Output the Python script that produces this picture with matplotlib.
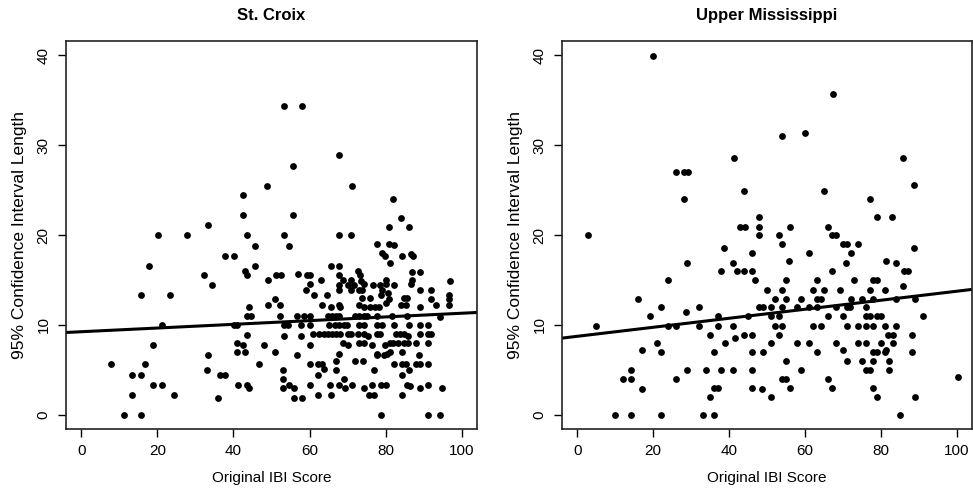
import numpy as np
import matplotlib
matplotlib.use("Agg")
from matplotlib import pyplot as plt

plt.rcParams['font.family'] = ['Liberation Sans', 'DejaVu Sans']

# St. Croix: original IBI score vs 95% CI length
croix_x = [20.1, 27.8, 33.3, 42.4, 42.4, 43.5, 48.9,
           53.4, 57.9, 67.8, 55.6, 71.1, 81.9, 84.0, 81.0, 86.0, 55.6, 53.4, 67.8, 70.8,
           45.6, 37.9, 40.1, 17.9, 45.6, 43.0, 43.5, 32.2, 34.4, 49.0, 15.7, 23.4, 49.0, 44.0,
           43.5, 44.5, 21.2, 40.1, 41.0, 43.5, 18.9, 41.0, 42.4, 47.9, 41.0, 43.0, 33.3, 7.9,
           16.8, 46.8, 13.4, 15.7, 33.1, 36.5, 37.9, 18.9, 21.2, 41.3, 43.5, 44.0, 13.4, 24.4,
           36.0, 11.3, 15.7,
           54.5, 77.8, 81.0, 82.3, 79.0, 79.9, 81.1, 84.4, 86.6, 87.3, 65.6, 67.8, 86.8, 89.1,
           51.3, 52.4, 56.9, 59.2, 60.2, 67.8, 72.8, 73.3, 63.1, 68.9, 70.9, 73.4, 80.0, 87.0,
           96.9, 60.0, 67.8, 70.0, 71.6, 74.2, 76.7, 78.6, 80.0, 82.1, 86.7, 59.0, 67.8, 70.9,
           72.9, 73.8, 79.1, 88.9, 91.9, 61.2, 64.5, 78.7, 80.7, 96.6, 50.9, 73.9, 76.0, 81.0,
           84.7, 85.7, 91.9, 96.6, 52.3, 63.4, 65.6, 67.8, 68.0, 73.1, 74.3, 75.8, 77.2, 78.3,
           80.0, 84.1, 85.3, 88.9, 93.1, 96.6, 52.2, 56.6, 58.5, 60.1, 64.9, 65.9, 67.0, 67.8,
           71.9, 73.1, 74.3, 75.1, 77.7, 81.6, 85.6, 94.2, 53.3, 54.4, 57.8, 60.0, 65.0, 66.7,
           67.8, 69.0, 69.9, 73.1, 74.3, 77.7, 79.1, 82.1, 86.0, 88.9, 91.0, 53.3, 57.7, 60.9,
           62.5, 63.8, 64.8, 65.9, 67.0, 68.0, 70.0, 70.9, 72.6, 74.2, 75.3, 77.7, 78.6, 82.7,
           83.8, 84.8, 85.9, 89.0, 91.0, 92.0, 60.0, 68.9, 70.1, 73.1, 74.3, 76.5, 79.8, 81.1,
           82.0, 83.2, 84.9, 85.9, 87.9, 91.0, 51.0, 56.8, 67.8, 77.6, 77.7, 79.6, 80.4, 81.2,
           84.2, 88.8, 67.0, 72.0, 74.0, 53.0, 60.1, 62.3, 63.2, 63.7, 67.0, 77.0, 82.1, 84.3,
           85.3, 86.1, 87.9, 89.0, 91.0, 62.3, 69.1, 84.3, 53.0, 53.0, 54.5, 55.9, 60.1, 65.5,
           67.8, 69.2, 71.1, 74.2, 76.4, 78.7, 80.0, 85.5, 86.5, 89.0, 91.0, 94.8, 55.9, 58.0,
           62.3, 65.6, 75.7, 76.9, 84.3, 78.7, 91.0, 94.3]
croix_y = [20.0, 20.0, 21.1, 22.2, 24.4, 20.0, 25.5,
           34.4, 34.4, 28.9, 27.7, 25.5, 24.0, 21.9, 20.9, 20.9, 22.2, 20.0, 20.0, 20.0,
           18.8, 17.7, 17.7, 16.6, 16.6, 16.0, 15.5, 15.5, 14.4, 15.0, 13.3, 13.3, 12.2, 12.0,
           11.0, 11.0, 10.0, 10.0, 10.0, 8.9, 7.7, 8.0, 7.7, 7.7, 7.0, 7.0, 6.6, 5.6,
           5.6, 5.6, 4.4, 4.4, 5.0, 4.4, 4.4, 3.3, 3.3, 3.3, 3.3, 3.0, 2.2, 2.2,
           1.9, 0.0, 0.0,
           18.8, 19.0, 19.0, 18.9, 18.0, 17.7, 16.9, 17.7, 17.9, 17.7, 16.6, 16.6, 15.9, 15.9,
           15.5, 15.5, 15.7, 15.5, 15.5, 15.5, 16.0, 15.5, 15.0, 15.0, 15.0, 14.9, 15.0, 15.0,
           14.9, 14.5, 14.4, 14.4, 14.4, 14.5, 14.4, 14.4, 14.6, 14.4, 14.5, 13.9, 13.9, 13.9,
           13.9, 13.9, 13.9, 13.9, 13.9, 13.3, 13.3, 13.3, 13.5, 13.3, 12.9, 13.0, 13.0, 12.9,
           13.0, 13.0, 12.9, 12.9, 12.2, 12.2, 12.0, 12.2, 12.0, 12.2, 12.0, 12.0, 12.0, 12.0,
           12.4, 12.2, 12.2, 12.0, 12.2, 12.2, 11.0, 11.0, 11.0, 11.0, 11.0, 11.0, 11.0, 11.0,
           11.0, 11.0, 11.0, 11.0, 11.0, 11.0, 11.0, 10.9, 10.0, 10.0, 10.0, 10.0, 10.0, 10.0,
           10.0, 10.0, 10.0, 10.0, 10.0, 10.0, 10.0, 10.0, 10.0, 10.0, 10.0, 8.8, 8.8, 9.0,
           9.0, 9.0, 9.0, 9.0, 9.0, 9.0, 9.0, 9.0, 9.0, 9.0, 8.8, 9.0, 9.0, 9.0,
           9.0, 9.0, 8.8, 9.0, 9.0, 9.0, 7.7, 8.0, 7.7, 8.0, 8.0, 7.7, 7.7, 8.0,
           8.0, 8.0, 8.0, 8.0, 8.0, 8.0, 7.0, 6.6, 6.7, 6.8, 6.6, 6.6, 6.8, 7.0,
           7.0, 6.6, 6.0, 6.0, 6.0, 5.0, 5.6, 5.6, 5.6, 5.1, 5.0, 5.0, 5.6, 5.6,
           5.6, 5.0, 5.6, 5.6, 5.6, 4.4, 4.0, 4.4, 4.0, 3.0, 3.3, 3.0, 3.3, 3.3,
           3.3, 3.0, 3.3, 3.0, 3.3, 3.3, 3.3, 3.3, 3.2, 3.0, 3.3, 3.0, 1.9, 1.9,
           2.2, 2.2, 2.2, 2.2, 2.2, 0.0, 0.0, 0.0]

# Upper Mississippi
miss_x = [19.9, 41.4, 26.1, 28.2, 29.2, 28.1, 43.9, 48.0, 43.0, 44.1, 48.0, 2.8, 48.0,
          67.3, 54.0, 60.1, 85.7, 88.7, 65.1, 77.1, 79.1, 82.9, 56.0, 66.0, 53.1, 67.2, 68.1,
          38.7, 46.0, 29.0, 41.0, 38.0, 42.0, 44.0, 46.0, 46.9, 24.0, 16.1, 22.0, 32.0, 28.6,
          48.0, 48.9, 19.1, 37.0, 45.0, 5.0, 24.0, 26.1, 32.0, 37.0, 41.0, 34.9, 44.0, 46.0,
          41.5, 39.0, 21.1, 17.2, 22.0, 36.0, 46.0, 14.2, 29.0, 34.0, 38.0, 41.0, 46.0, 12.1,
          14.2, 26.1, 17.2, 36.0, 37.0, 46.0, 34.9, 10.0, 14.2, 22.0, 33.1, 36.0,
          54.0, 70.0, 71.0, 74.1, 88.7, 61.1, 72.1, 55.9, 70.9, 81.4, 84.1, 67.0, 86.0, 87.1,
          55.1, 63.1, 73.0, 78.0, 79.1, 85.7, 50.1, 54.0, 62.1, 65.1, 69.1, 77.1, 81.1,
          52.0, 55.1, 59.0, 63.1, 64.1, 72.1, 75.1, 78.0, 84.1, 89.1,
          51.0, 54.0, 58.0, 61.1, 63.1, 68.1, 71.0, 71.9, 76.1,
          51.0, 53.1, 66.0, 70.0, 76.1, 77.1, 79.1, 80.1, 91.1,
          52.0, 54.0, 62.1, 64.1, 71.0, 74.1, 76.1, 78.0, 81.1, 84.1,
          53.1, 82.0, 83.1, 88.1, 51.0, 58.0, 61.1, 68.1, 74.1, 76.1, 80.0, 83.1,
          49.0, 63.1, 70.1, 78.0, 79.1, 81.1, 81.4, 88.1, 55.1, 71.0, 75.1, 78.0, 82.1,
          59.0, 76.1, 77.1, 82.1, 54.0, 55.1, 66.0, 100.2, 48.7, 56.0, 67.0, 78.0,
          51.0, 79.1, 89.1, 85.0]
miss_y = [39.9, 28.6, 27.0, 27.0, 27.0, 24.0, 24.9, 22.0, 20.9, 20.9, 20.9, 20.0, 20.0,
          35.7, 31.0, 31.4, 28.6, 25.6, 24.9, 24.0, 22.0, 22.0, 20.9, 20.9, 20.0, 20.0, 20.0,
          18.5, 18.0, 16.9, 16.9, 16.0, 16.0, 16.0, 16.0, 15.0, 15.0, 12.9, 12.0, 12.0, 11.4,
          12.0, 12.0, 11.0, 11.0, 11.0, 9.9, 9.9, 9.9, 9.9, 9.9, 9.9, 8.9, 8.9, 8.9,
          8.5, 8.0, 8.0, 7.2, 7.0, 7.0, 7.0, 5.0, 5.0, 5.0, 5.0, 5.0, 5.0, 4.0,
          4.0, 4.0, 2.8, 3.0, 3.0, 3.0, 2.0, 0.0, 0.0, 0.0, 0.0, 0.0,
          19.0, 19.0, 19.0, 19.0, 18.5, 18.0, 18.0, 17.1, 16.9, 17.1, 16.9, 16.0, 16.0, 16.0,
          15.0, 15.0, 15.0, 15.0, 15.0, 14.3, 13.9, 13.9, 13.9, 13.9, 13.9, 13.9, 13.9,
          12.9, 12.9, 12.9, 12.9, 12.9, 12.9, 12.9, 12.9, 12.9, 12.9,
          12.0, 12.0, 12.0, 12.0, 12.0, 12.0, 12.0, 12.0, 12.0,
          11.0, 11.0, 11.0, 11.0, 11.0, 11.0, 11.0, 11.0, 11.0,
          9.9, 9.9, 9.9, 9.9, 9.9, 9.9, 9.9, 9.9, 9.9, 9.9,
          8.9, 8.9, 8.9, 8.9, 8.0, 8.0, 8.0, 8.0, 8.0, 8.0, 8.0, 8.0,
          7.0, 7.0, 7.2, 7.0, 7.0, 7.0, 7.2, 7.0, 6.0, 6.0, 6.0, 6.0, 6.0,
          5.0, 5.0, 5.0, 5.0, 4.0, 4.0, 4.0, 4.2, 2.8, 3.0, 3.0, 3.0,
          2.0, 2.0, 2.0, 0.0]

# fitted lines (intercept, slope)
croix_fit = (9.23, 0.0206)
miss_fit = (8.72, 0.0502)

titles = ['St. Croix', 'Upper Mississippi']
xticks = [0, 20, 40, 60, 80, 100]
yticks = [0, 10, 20, 30, 40]

fig = plt.figure(figsize=(9.73, 4.92), dpi=100)
ax1 = fig.add_axes([66/973, 63/492, 411/973, 388/492])
ax2 = fig.add_axes([562/973, 63/492, 410/973, 388/492])

panels = [(ax1, croix_x, croix_y, croix_fit), (ax2, miss_x, miss_y, miss_fit)]
for i, (ax, xs, ys, fit) in enumerate(panels):
    ax.scatter(xs, ys, s=24, c='black', linewidths=0, zorder=3)
    ax.axline((0, fit[0]), slope=fit[1], color='black', lw=2.2, zorder=2)
    ax.set_xlim(-4, 104)
    ax.set_ylim(-1.6, 41.6)
    ax.set_xticks(xticks)
    ax.set_yticks(yticks)
    ax.set_yticklabels([str(t) for t in yticks], rotation=90, va='center')
    ax.tick_params(direction='out', length=6, width=1, labelsize=11, pad=5)
    for sp in ax.spines.values():
        sp.set_linewidth(1.2)
        sp.set_color('#222222')
    ax.set_title(titles[i], fontsize=12, fontweight='bold', pad=15)
    ax.set_xlabel('Original IBI Score', fontsize=11, labelpad=9)
    ax.set_ylabel('95% Confidence Interval Length', fontsize=12.5, labelpad=7)

plt.savefig('out.png', dpi=100)
